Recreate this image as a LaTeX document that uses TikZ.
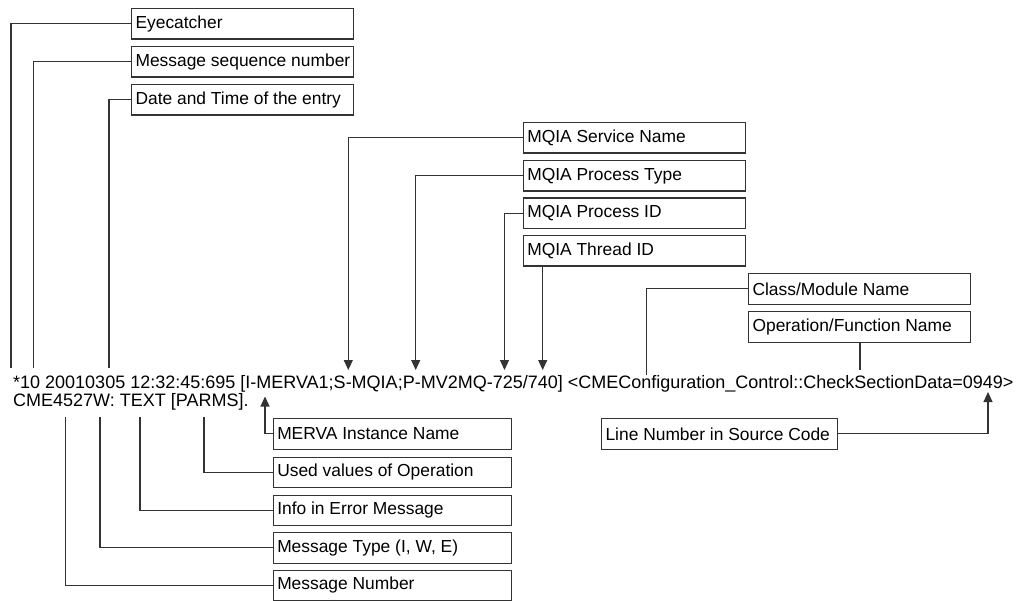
\documentclass[tikz,border=0pt]{standalone}
\usepackage{fontspec}
\setmainfont{Liberation Sans}
\usetikzlibrary{arrows.meta}
\begin{document}
\begin{tikzpicture}[x=1pt,y=-1pt,
  lbl/.style={draw=black!80, line width=1.1pt, anchor=north west, minimum height=30.5pt,
    inner xsep=4pt, inner ysep=0pt,
    execute at begin node={\hbox to #1\bgroup},
    execute at end node={\hss\egroup},
    font=\fontsize{17.4}{20}\selectfont},
  lbl/.default=214pt,
  logtext/.style={anchor=base west, inner sep=0pt, font=\fontsize{18}{20}\selectfont},
  conn/.style={draw=black!80, line width=1.1pt},
  arr/.style={conn, -{Triangle[length=10pt,width=9pt]}}]
\useasboundingbox (0,0) rectangle (1024,601);

% log text
\node[logtext] (l1) at (13,388) {*10 20010305 12:32:45:695 [I-MERVA1;S-MQIA;P-MV2MQ-725/740] <CMEConfiguration\_Control::CheckSectionData=0949>};
\node[logtext] (l2) at (13,406.5) {CME4527W: TEXT [PARMS].};

% upper left boxes
\node[lbl] (eye) at (131,8) {Eyecatcher};
\node[lbl] (seq) at (131,46) {Message sequence number};
\node[lbl] (dat) at (131,84) {Date and Time of the entry};

% MQIA boxes
\node[lbl] (svc) at (522.7,122) {MQIA Service Name};
\node[lbl] (pty) at (522.7,160) {MQIA Process Type};
\node[lbl] (pid) at (522.7,197.5) {MQIA Process ID};
\node[lbl] (tid) at (522.7,235) {MQIA Thread ID};

% class / operation
\node[lbl] (cls) at (748,273) {Class/Module Name};
\node[lbl] (opn) at (748,311) {Operation/Function Name};

% lower boxes
\node[lbl=230pt] (mer) at (272.7,418) {MERVA Instance Name};
\node[lbl=230pt] (use) at (272.7,456.5) {Used values of Operation};
\node[lbl=230pt] (inf) at (272.7,494.5) {Info in Error Message};
\node[lbl=230pt] (mty) at (272.7,532) {Message Type (I, W, E)};
\node[lbl=230pt] (mno) at (272.7,569.5) {Message Number};
\node[lbl=228pt] (lno) at (601,418) {Line Number in Source Code};

% coordinates on the log text
\coordinate (ceye) at (11,368);
\coordinate (cseq) at (33.5,368);
\coordinate (cdat) at (109,368);
\coordinate (csvc) at (348.3,370);
\coordinate (cpty) at (415.7,370);
\coordinate (cpid) at (504.5,370);
\coordinate (ctid) at (542.7,370);
\coordinate (ccls) at (646.7,375);
\coordinate (copn) at (860,370);
\coordinate (cmer) at (265,396.5);
\coordinate (cuse) at (204,417);
\coordinate (cinf) at (140,417);
\coordinate (cmty) at (100,417);
\coordinate (cmno) at (65.7,417);
\coordinate (clno) at (988,392);

% connectors
\draw[conn] (eye.west) -| (ceye);
\draw[conn] (seq.west) -| (cseq);
\draw[conn] (dat.west) -| (cdat);
\draw[arr] (svc.west) -| (csvc);
\draw[arr] (pty.west) -| (cpty);
\draw[arr] (pid.west) -| (cpid);
\draw[arr] (tid.south -| ctid) -- (ctid);
\draw[conn] (cls.west) -| (ccls);
\draw[conn] (opn.south -| copn) -- (copn);
\draw[arr] (mer.west) -| (cmer);
\draw[conn] (use.west) -| (cuse);
\draw[conn] (inf.west) -| (cinf);
\draw[conn] (mty.west) -| (cmty);
\draw[conn] (mno.west) -| (cmno);
\draw[arr] (lno.east) -| (clno);
\end{tikzpicture}
\end{document}
